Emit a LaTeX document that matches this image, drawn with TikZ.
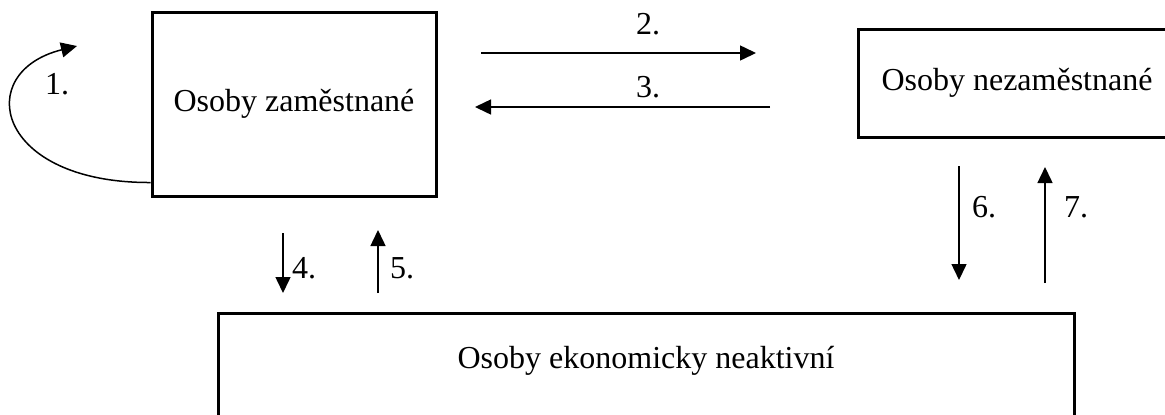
\documentclass[tikz,border=0pt]{standalone}
\usepackage{fontspec}
\setmainfont{Liberation Serif}
\usepackage{tikz}
\usetikzlibrary{arrows}
\usetikzlibrary{arrows.meta}
\usetikzlibrary{positioning}

\tikzset{
    stav/.style={draw,line width=1.5pt,inner sep=0pt},
    tok/.style={line width=0.75pt},
}

\begin{document}
\begin{tikzpicture}[x=0.5pt,y=-0.5pt,>={Triangle[length=8pt,width=7.5pt]},font=\fontsize{16}{19}\selectfont]
    \clip (0,0) rectangle (1165,414);

    % Draw boxes
    \node [stav,minimum width=142pt,minimum height=92pt] (zam) at (294,104) {Osoby zaměstnané};
    \node [stav,minimum width=159pt,minimum height=54pt] (nezam) at (1017,83) {Osoby nezaměstnané};
    \node [stav,minimum width=428pt,minimum height=62pt,anchor=north] (neakt) at (646,312) {};
    \node (neakttext) at (646,361) {Osoby ekonomicky neaktivní};

    % arrow ends
    \coordinate (s1) at ([yshift=7.5pt]zam.south west);
    \coordinate (e1) at (77,46);
    \coordinate (s2) at (481,53);
    \coordinate (e2) at (756,53);
    \coordinate (s3) at (770,107);
    \coordinate (e3) at (475,107);
    \coordinate (s4) at (283,233);
    \coordinate (e4) at (283,293);
    \coordinate (s5) at (378,293);
    \coordinate (e5) at (378,230);
    \coordinate (s6) at (959,166);
    \coordinate (e6) at (959,280);
    \coordinate (s7) at (1045,283);
    \coordinate (e7) at (1045,167);

    % Draw flows
    \draw [->,tok] (s1) .. controls (-5,183) and (-28,72) .. (e1);
    \draw [->,tok] (s2) -- (e2);
    \draw [->,tok] (s3) -- (e3);
    \draw [->,tok] (s4) -- (e4);
    \draw [->,tok] (s5) -- (e5);
    \draw [->,tok] (s6) -- (e6);
    \draw [->,tok] (s7) -- (e7);

    % flow labeling
    \node (l1) at (57,84) {1.};
    \node (l2) at (648,24) {2.};
    \node (l3) at (648,87) {3.};
    \node (l4) at (304,268) {4.};
    \node (l5) at (402,268) {5.};
    \node (l6) at (984,207) {6.};
    \node (l7) at (1076,207) {7.};
\end{tikzpicture}
\end{document}
